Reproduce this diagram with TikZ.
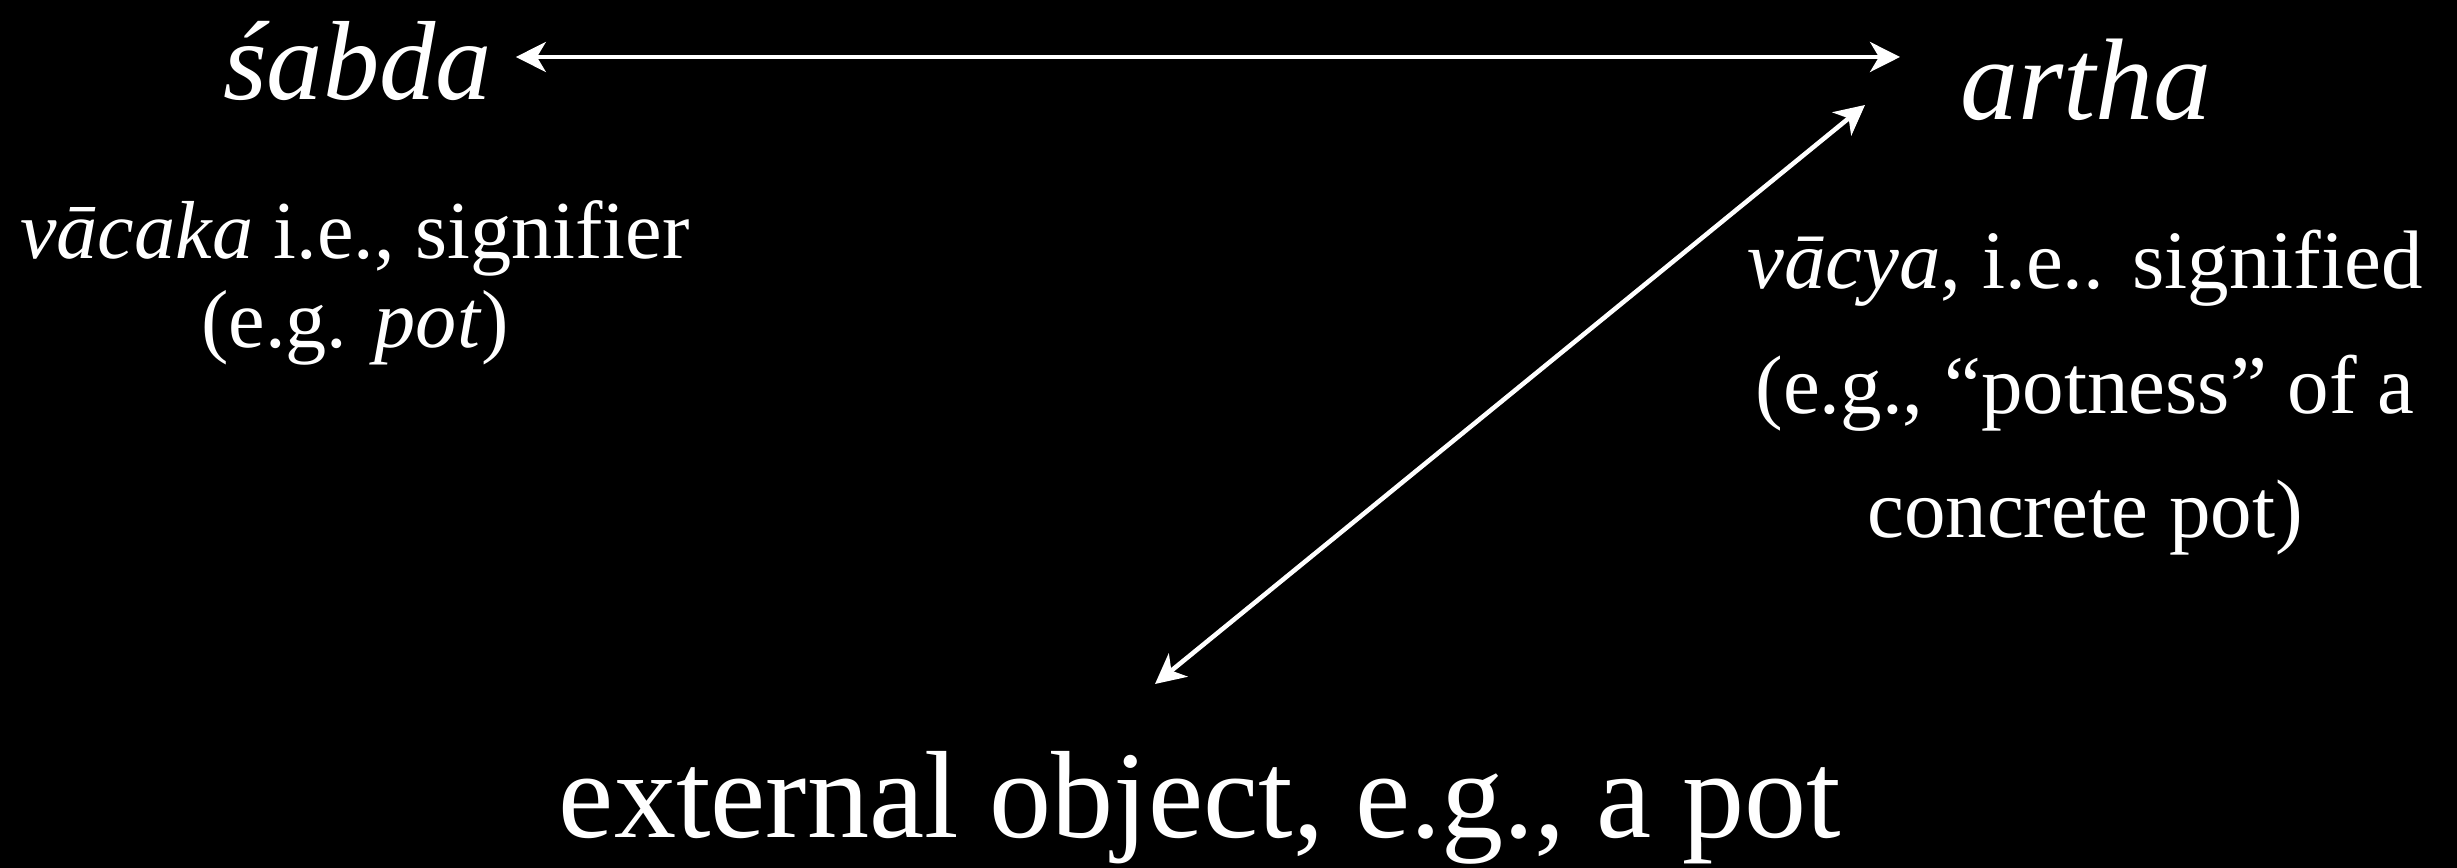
\documentclass[tikz,border=0pt]{standalone}
\usepackage{fontspec}
\setmainfont{Liberation Serif}
\usetikzlibrary{arrows.meta,calc}
\begin{document}
\begin{tikzpicture}[x=0.01cm,y=-0.01cm,
  lbl/.style={text=white,inner sep=0pt,outer sep=0pt},
  arr/.style={draw=white,line width=1.3pt,>={Stealth[length=8.5pt,width=8.5pt,inset=2.5pt]},<->}]
\fill[black] (0,0) rectangle (2457,868);
\useasboundingbox (0,0) rectangle (2457,868);
\node[lbl,anchor=base west,font=\fontsize{32}{36}\selectfont\itshape] (sabda) at (223,100) {śabda};
\node[lbl,anchor=base west,font=\fontsize{33}{36}\selectfont\itshape] (artha) at (1960,120) {artha};
\node[lbl,anchor=base,align=center,font=\fontsize{23.4}{25.5}\selectfont] (vacaka) at (355,348) {\textit{vācaka} i.e., signifier\\(e.g. \textit{pot})};
\node[lbl,anchor=base,align=center,font=\fontsize{23.6}{35.5}\selectfont] (vacya) at (2085,538) {\textit{vācya}, i.e.. signified\\(e.g., “potness” of a\\concrete pot)};
\node[lbl,anchor=base,font=\fontsize{35.3}{40}\selectfont] (ext) at (1200,838) {external object, e.g., a pot};
\draw[arr] ($(sabda.base east)+(24,-43)$) -- ($(artha.base west)+(-60,-63)$);
\draw[arr] ($(artha.base west)+(-95,-15)$) -- ($(ext.base)+(-45,-154)$);
\end{tikzpicture}
\end{document}
